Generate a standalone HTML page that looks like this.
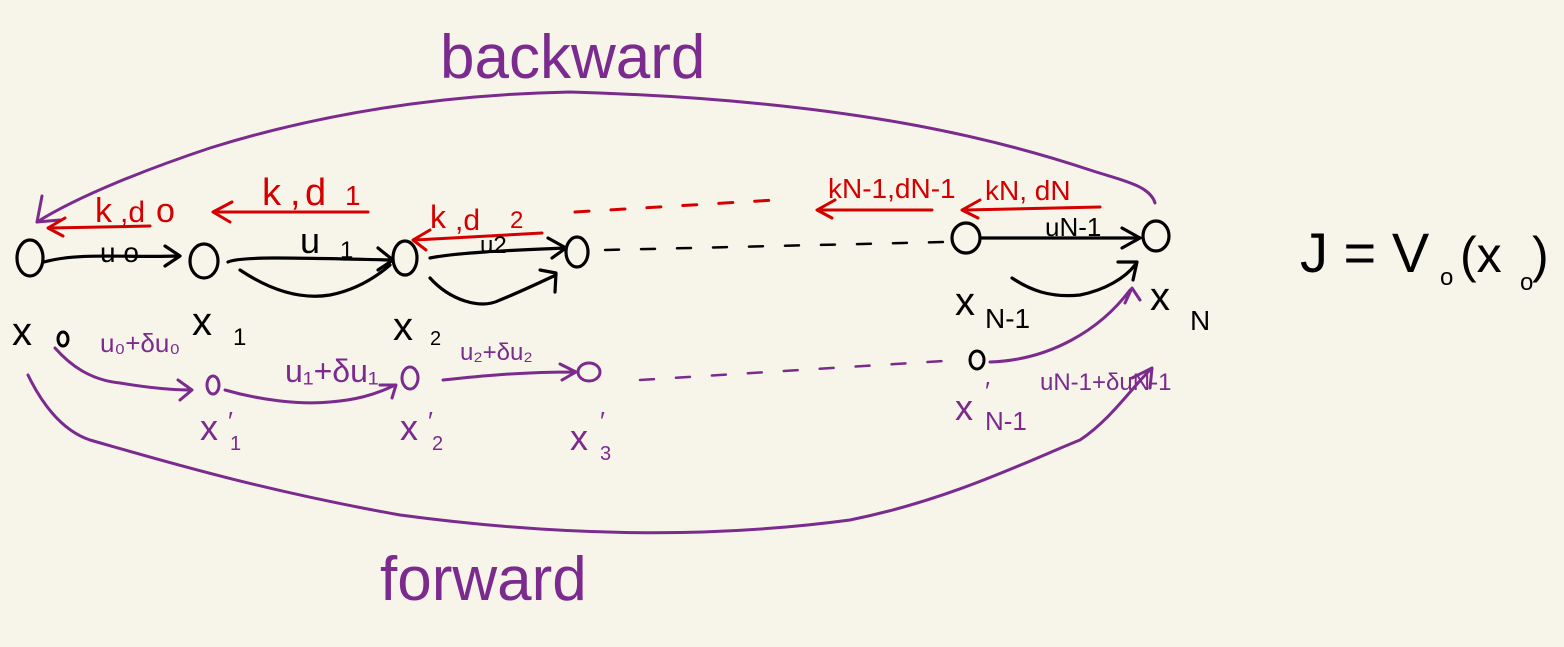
<!DOCTYPE html>
<html><head><meta charset="utf-8"><style>
html,body{margin:0;padding:0;background:#f7f5ea;}
svg{display:block}
text{font-family:"Liberation Sans",sans-serif;}
</style></head><body>
<svg width="1564" height="647" viewBox="0 0 1564 647" xmlns="http://www.w3.org/2000/svg">
<rect width="1564" height="647" fill="#f7f5ea"/>
<g fill="none" stroke-linecap="round" stroke-linejoin="round">
<g stroke="#7b2a8e" stroke-width="3">
<path d="M1155,203 C1150,185 1120,180 1090,170 C1000,140 850,100 570,92 C420,95 300,120 210,148 C150,168 80,195 37,222"/>
<path d="M37,222 L42,196 M37,222 L60,220"/>
</g>
<g stroke="#000" stroke-width="3.2">
<ellipse cx="30" cy="258" rx="13" ry="18"/>
<ellipse cx="204" cy="261" rx="14" ry="17"/>
<ellipse cx="405" cy="258" rx="12" ry="17"/>
<ellipse cx="577" cy="252" rx="11" ry="15"/>
<ellipse cx="966" cy="238" rx="14" ry="15"/>
<ellipse cx="1156" cy="236" rx="13" ry="15"/>
<path d="M44,262 C80,252 130,258 178,256 M165,246 L180,256 L165,266"/>
<path d="M228,262 C240,256 300,258 392,260 M378,248 L393,260 L378,270"/>
<path d="M240,270 C270,290 300,300 330,295 C355,290 375,278 390,265"/>
<path d="M430,258 C460,252 520,250 566,248 M548,238 L566,248 L552,258"/>
<path d="M430,278 C450,300 480,310 500,300 C520,292 545,280 556,275 M540,270 L556,273 L555,292"/>
<path d="M982,238 L1140,238 M1122,228 L1140,238 L1122,248"/>
<path d="M1012,278 C1030,290 1050,298 1080,295 C1105,290 1125,278 1135,265 M1118,262 L1137,262 L1133,280"/>
<path d="M605,250 L945,242" stroke-dasharray="14,22" stroke-width="2.5"/>
</g>
<g stroke="#d40000" stroke-width="3">
<path d="M150,226 L50,228 M65,218 L48,228 L63,236"/>
<path d="M368,212 L215,212 M232,202 L213,212 L230,222"/>
<path d="M542,233 L415,240 M430,230 L413,240 L426,250"/>
<path d="M932,210 L820,210 M835,200 L817,210 L832,218"/>
<path d="M1100,207 L965,210 M980,200 L962,210 L978,218"/>
<path d="M575,212 L775,200" stroke-dasharray="14,22"/>
</g>
<g fill="#d40000" font-size="34" stroke="none">
<text x="95" y="222">k</text><text x="120" y="222" font-size="30">,d</text><text x="156" y="222">o</text>
<text x="262" y="205" font-size="38">k</text><text x="290" y="205" font-size="38">,</text><text x="305" y="205" font-size="38">d</text><text x="345" y="205" font-size="28">1</text>
<text x="430" y="228" font-size="32">k</text><text x="455" y="230" font-size="30">,d</text><text x="510" y="228" font-size="24">2</text>
<text x="828" y="198" font-size="28">kN-1,dN-1</text>
<text x="985" y="200" font-size="28">kN, dN</text>
</g>
<g fill="#000" stroke="none">
<text x="100" y="262" font-size="28">u o</text>
<text x="300" y="253" font-size="36">u</text><text x="340" y="258" font-size="24">1</text>
<text x="480" y="253" font-size="24">u2</text>
<text x="1045" y="236" font-size="26">uN-1</text>
<text x="12" y="345" font-size="40">x</text>
<text x="192" y="335" font-size="40">x</text><text x="233" y="345" font-size="24">1</text>
<text x="393" y="340" font-size="40">x</text><text x="430" y="345" font-size="20">2</text>
<text x="955" y="315" font-size="40">x</text><text x="985" y="328" font-size="28">N-1</text>
<text x="1150" y="310" font-size="40">x</text><text x="1190" y="330" font-size="28">N</text>
<text x="1300" y="272" font-size="56">J = V</text><text x="1440" y="285" font-size="24">o</text><text x="1460" y="272" font-size="50">(x</text><text x="1520" y="290" font-size="24">o</text><text x="1532" y="272" font-size="50">)</text>
</g>
<g stroke="#7b2a8e" stroke-width="3">
<ellipse cx="213" cy="385" rx="6" ry="9"/>
<ellipse cx="410" cy="378" rx="8" ry="11"/>
<ellipse cx="589" cy="372" rx="11" ry="9"/>
<path d="M55,348 C70,365 90,380 120,383 C150,388 170,390 190,390 M178,380 L192,390 L180,400"/>
<path d="M225,390 C260,400 300,405 330,402 C355,400 375,395 395,385 M380,385 L396,385 L392,398"/>
<path d="M443,380 C480,376 520,372 575,372 M560,364 L576,372 L562,380"/>
<path d="M640,380 L960,360" stroke-dasharray="14,22" stroke-width="2.5"/>
<path d="M990,362 C1050,360 1100,330 1130,290 M1125,303 L1132,288 L1140,300"/>
<path d="M28,375 C40,400 60,430 90,440 C160,460 260,490 400,515 C550,535 700,540 850,520 C950,500 1030,460 1080,440 C1110,420 1130,390 1150,370 M1132,378 L1152,368 L1150,388"/>
</g>
<g fill="#7b2a8e" stroke="none">
<ellipse cx="63" cy="339" rx="5" ry="7" fill="none" stroke="#000" stroke-width="3"/>
<ellipse cx="977" cy="360" rx="7" ry="9" fill="none" stroke="#000" stroke-width="3"/>
<text x="440" y="78" font-size="62">backward</text>
<text x="380" y="600" font-size="62">forward</text>
<text x="100" y="352" font-size="26">u₀+δu₀</text>
<text x="285" y="382" font-size="32">u₁+δu₁</text>
<text x="460" y="360" font-size="24">u₂+δu₂</text>
<text x="1040" y="390" font-size="24">uN-1+δuN-1</text>
<text x="200" y="440" font-size="36">x</text><text x="228" y="430" font-size="26">′</text><text x="230" y="450" font-size="20">1</text>
<text x="400" y="440" font-size="36">x</text><text x="428" y="430" font-size="26">′</text><text x="432" y="450" font-size="20">2</text>
<text x="570" y="450" font-size="36">x</text><text x="600" y="430" font-size="26">′</text><text x="600" y="460" font-size="20">3</text>
<text x="955" y="420" font-size="36">x</text><text x="985" y="400" font-size="26">′</text><text x="985" y="430" font-size="26">N-1</text>
</g>
</g>
</svg>
</body></html>
